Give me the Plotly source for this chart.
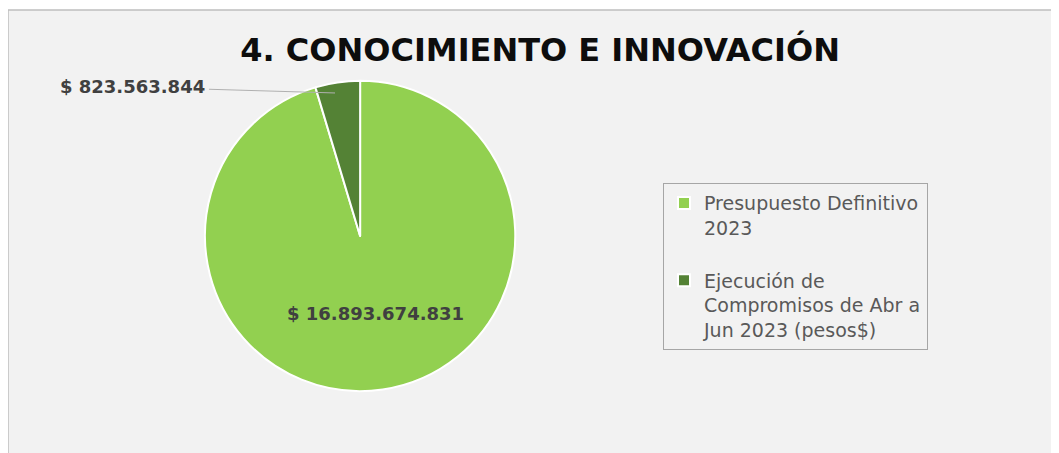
import plotly.graph_objects as go

# Datos del gráfico
etiquetas = ["Presupuesto Definitivo<br>2023<br> ",
             "Ejecución de<br>Compromisos de Abr a<br>Jun 2023 (pesos$)"]
valores = [16893674831, 823563844]
colores = ["#92D050", "#548235"]
titulo = "4. CONOCIMIENTO E INNOVACIÓN"


def pesos(v):
    return "$ " + f"{v:,}".replace(",", ".")


fig = go.Figure(go.Pie(
    labels=etiquetas,
    values=valores,
    sort=False,
    direction="clockwise",
    rotation=0,
    marker=dict(colors=colores, line=dict(color="white", width=2)),
    textinfo="none",
    domain=dict(x=[0.186, 0.479], y=[0.155, 0.843]),
    showlegend=True,
))

fuente_etq = dict(family="DejaVu Sans", size=18, color="#404040", weight="bold")

# etiqueta del sector grande
fig.add_annotation(x=0.3466, y=0.326, xref="paper", yref="paper",
                   xanchor="center", yanchor="middle",
                   text=pesos(valores[0]), showarrow=False, font=fuente_etq)

# etiqueta exterior con linea guia
fig.add_annotation(
    x=0.3088, y=0.816, xref="paper", yref="paper",
    text=pesos(valores[1]), showarrow=True, arrowhead=0,
    arrowcolor="#b0b0b0", arrowwidth=1, ax=-203, ay=-6, standoff=0,
    font=fuente_etq, borderpad=4,
)

# fondo gris con borde
fig.add_shape(type="rect", xref="paper", yref="paper", x0=0, x1=1.01, y0=-0.03, y1=1,
              fillcolor="#f2f2f2", line=dict(color="#bfbfbf", width=1.5), layer="below")

fig.update_layout(
    width=1059, height=453,
    margin=dict(l=0, r=0, t=2, b=0),
    paper_bgcolor="white",
    title=dict(text="<b>" + titulo + "</b>", x=0.5024, xanchor="center", y=0.907, yanchor="middle",
               font=dict(family="DejaVu Sans", size=32, color="#0d0d0d")),
    legend=dict(x=0.6185, y=0.616, xanchor="left", yanchor="top", valign="top",
                bordercolor="#a6a6a6", borderwidth=1, bgcolor="rgba(0,0,0,0)",
                font=dict(family="DejaVu Sans", size=19, color="#595959")),
)

fig.write_html("out.html")
